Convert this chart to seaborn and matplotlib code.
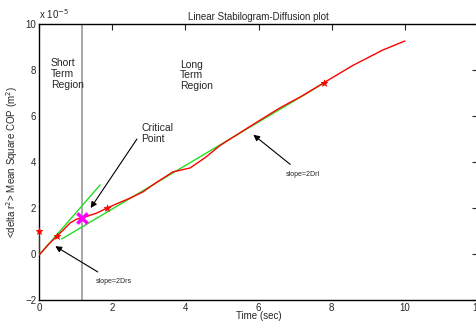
import numpy as np
import pandas as pd
import matplotlib
matplotlib.use("Agg")
import matplotlib.pyplot as plt
import seaborn as sns

# Mean square COP displacement (units of 1e-5 m^2)
time_sec = [0, 0, 0.25, 0.49, 0.66, 0.85, 1.03, 1.17, 1.39, 1.58, 1.86, 2.15, 2.49,
            2.84, 3.2, 3.66, 4.13, 4.55, 4.95, 5.74, 6.56, 7.2, 7.79, 8.58, 9.4, 10.0]
msd = [1.0, -0.05, 0.4, 0.78, 1.04, 1.35, 1.52, 1.55, 1.68, 1.78, 2.0, 2.2, 2.43,
       2.7, 3.1, 3.57, 3.74, 4.2, 4.72, 5.52, 6.33, 6.88, 7.45, 8.2, 8.87, 9.26]

# marked points on the curve
mark_t = [0, 0.49, 1.86, 7.79]
mark_y = [1.0, 0.78, 2.0, 7.45]

# critical point
crit_t = [1.17]
crit_y = [1.55]

# fitted lines (short term, long term)
short_t = [0.0, 1.67]
short_y = [-0.05, 3.0]
long_t = [0.62, 7.79]
long_y = [0.65, 7.43]

curve = pd.DataFrame({"t": time_sec, "msd": msd})
short_df = pd.DataFrame({"t": short_t, "msd": short_y})
long_df = pd.DataFrame({"t": long_t, "msd": long_y})

sns.set_style("white")
plt.rcParams["font.family"] = ["Liberation Sans", "DejaVu Sans"]

fig = plt.figure(figsize=(4.76, 3.22), dpi=100)
ax = fig.add_axes([39 / 476, 22 / 322, 439 / 476, 276 / 322])

sns.lineplot(data=curve, x="t", y="msd", sort=False, estimator=None,
             color="red", lw=1.0, ax=ax, zorder=3)
sns.lineplot(data=short_df, x="t", y="msd", color="#22dd22", lw=1.0, ax=ax, zorder=2)
sns.lineplot(data=long_df, x="t", y="msd", color="#22dd22", lw=1.0, ax=ax, zorder=2)
sns.scatterplot(x=mark_t, y=mark_y, marker="*", s=25, color="red",
                edgecolor="red", linewidth=0.5, ax=ax, zorder=5, clip_on=False)
sns.scatterplot(x=crit_t, y=crit_y, marker="x", s=55, color="magenta",
                linewidth=2.5, ax=ax, zorder=6)

ax.axvline(1.17, color="#999999", lw=1.2, zorder=1)

ax.set_xlim(0, 12)
ax.set_ylim(-2, 10)
ax.set_xticks(range(0, 13, 2))
ax.set_yticks(range(-2, 11, 2))
ax.tick_params(direction="in", length=4, width=0.8, labelsize=7,
               top=True, right=True, pad=2)
for s in ax.spines.values():
    s.set_visible(True)
    s.set_color("black")
    s.set_linewidth(1.0)

ax.set_title("Linear Stabilogram-Diffusion plot", fontsize=7, pad=3)
ax.set_xlabel("Time (sec)", fontsize=7, labelpad=-1)
ax.set_ylabel(r"<delta r$^2$> Mean Square COP (m$^2$)", fontsize=7, labelpad=4)
ax.text(0.0, 1.012, r"x 10$^{-5}$", transform=ax.transAxes, fontsize=7,
        ha="left", va="bottom")

ax.text(0.33, 8.5, "Short\nTerm\nRegion", fontsize=7.5, va="top", linespacing=1.08)
ax.text(3.85, 8.45, "Long\nTerm\nRegion", fontsize=7.5, va="top", linespacing=1.08)
ax.text(2.8, 4.8, "Critical\nPoint", fontsize=7.5, va="bottom", linespacing=1.08)

arrow = dict(arrowstyle="-|>", color="black", lw=0.8, mutation_scale=9)
ax.annotate("", xy=(1.37, 1.9), xytext=(2.72, 5.1), arrowprops=arrow)
ax.annotate("slope=2Drs", xy=(0.38, 0.4), xytext=(1.55, -1.2), fontsize=5,
            va="center", arrowprops=dict(arrow, shrinkA=4))
ax.annotate("slope=2Drl", xy=(5.8, 5.26), xytext=(6.75, 3.45), fontsize=5,
            va="center", arrowprops=dict(arrow, shrinkA=4))

fig.savefig("out.png", dpi=100)
